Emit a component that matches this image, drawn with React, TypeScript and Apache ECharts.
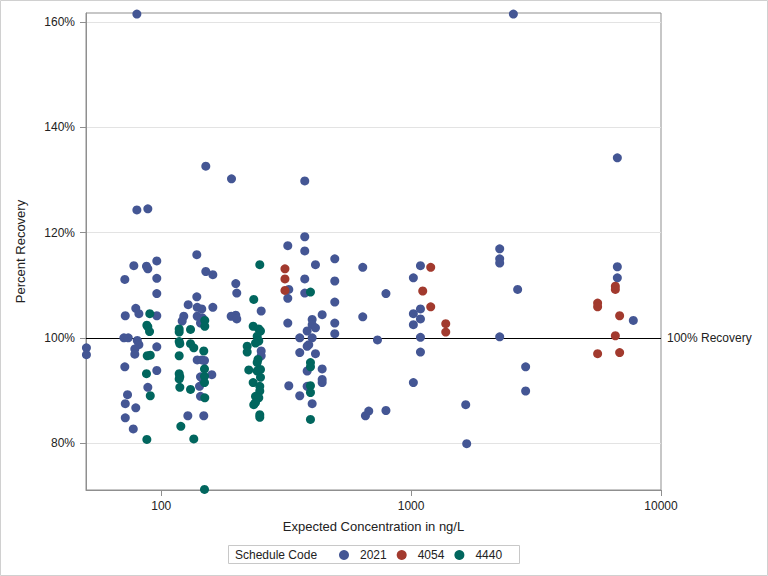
import React, { useEffect, useRef } from "react";
import * as echarts from "echarts";

const scheduleCodes = ["2021", "4054", "4440"];
const xTicks = [100, 1000, 10000];
const yTicks = [80, 100, 120, 140, 160];
const referenceValue = 100;

const series2021: [number, number][] = [
  [50.2, 98.1], [50.2, 96.8],
  [71.5, 111.1], [71.8, 104.2], [70.9, 100.0], [73.8, 100.0], [71.5, 94.5], [73.3, 89.2], [71.8, 87.5], [71.8, 84.8],
  [79.9, 161.5], [79.9, 124.3], [77.7, 113.7], [79.1, 105.6], [81.4, 104.6], [80.2, 99.5], [81.4, 98.7], [78.4, 97.9], [78.4, 96.9], [79.1, 86.7], [77.3, 82.7],
  [88.4, 124.5], [87.3, 113.6], [88.4, 113.1], [88.4, 90.6],
  [96.0, 114.6], [96.0, 111.3], [96.0, 108.4], [96.0, 104.2], [96.0, 98.3], [96.0, 93.8],
  [128.2, 106.3], [123.1, 104.1], [121.3, 103.2], [127.8, 85.2],
  [150.8, 132.6], [138.8, 115.8], [150.8, 112.6], [138.8, 107.8], [139.3, 105.8], [145.3, 105.5], [139.3, 104.1], [146.0, 103.8], [143.6, 102.8],
  [139.3, 95.8], [145.3, 95.8], [149.0, 95.7], [143.6, 92.6], [147.2, 92.1], [142.3, 90.8], [143.6, 88.9], [148.0, 85.2],
  [160.9, 112.0], [160.9, 105.8], [159.4, 93.0],
  [191.1, 130.2], [198.8, 110.3], [200.6, 108.5], [198.8, 104.3], [190.5, 104.1], [200.6, 103.6],
  [251.2, 105.1], [251.2, 97.5], [251.2, 96.6],
  [321.0, 117.5], [324.0, 109.2], [321.0, 107.5], [321.0, 102.8], [324.0, 90.9],
  [375.3, 129.8], [375.3, 119.2], [375.3, 116.5], [375.3, 111.2], [375.3, 108.5],
  [414.2, 113.9], [440.6, 104.4], [401.8, 103.5], [401.8, 102.5], [414.2, 101.9], [383.7, 101.3], [358.4, 100.0], [401.8, 100.0],
  [389.4, 98.7], [383.7, 98.4], [358.4, 97.2], [414.2, 97.0], [383.7, 93.7], [440.6, 94.1], [440.6, 92.1], [440.6, 91.5],
  [383.7, 90.8], [358.4, 89.0], [401.8, 87.5],
  [494.9, 115.0], [494.9, 110.8], [494.9, 106.8], [494.9, 102.8], [494.9, 100.8],
  [640.4, 113.4], [640.4, 104.0], [656.5, 85.2], [676.7, 86.1], [733.4, 99.6], [793.0, 108.4], [793.0, 86.2],
  [1021, 111.4], [1021, 104.6], [1021, 102.5], [1021, 91.5],
  [1090, 113.7], [1090, 105.5], [1090, 103.6], [1090, 100.1], [1090, 97.3],
  [1654, 87.3], [1669, 79.9],
  [2262, 116.9], [2262, 115.0], [2262, 114.2], [2262, 100.2],
  [2566, 161.5], [2669, 109.2], [2873, 94.5], [2873, 89.9],
  [6688, 134.2], [6688, 113.5], [6688, 111.4], [7748, 103.3],
];

const series4054: [number, number][] = [
  [312.7, 113.1], [312.7, 111.2], [312.7, 109.0],
  [1198, 113.4], [1113, 108.9], [1198, 105.9], [1376, 102.7], [1376, 101.1],
  [5577, 106.6], [5577, 105.9], [5577, 97.0],
  [6566, 109.8], [6566, 109.2], [6831, 104.2], [6566, 100.4], [6831, 97.2],
];

const series4440: [number, number][] = [
  [90.0, 104.6], [87.6, 102.4], [88.4, 102.1], [89.8, 101.2], [87.9, 96.6], [90.4, 96.7], [87.3, 93.2], [90.4, 89.0], [87.6, 80.7],
  [118.0, 101.7], [118.0, 101.1], [118.0, 99.3], [118.7, 98.9], [118.0, 96.6], [118.0, 93.2], [118.7, 92.6], [118.0, 92.2], [118.7, 90.6], [119.8, 83.2],
  [131.0, 101.6], [131.0, 98.9], [135.0, 98.1], [131.0, 90.2], [135.0, 80.8],
  [149.4, 103.3], [149.4, 102.2], [148.0, 97.5], [149.0, 94.1], [149.0, 92.7], [149.0, 91.5], [149.4, 88.6], [149.0, 71.2],
  [234.6, 107.3], [248.0, 113.9], [233.3, 102.2], [245.7, 101.7], [249.6, 101.3], [242.1, 100.3], [245.7, 99.4], [238.4, 99.0],
  [220.8, 98.4], [220.8, 97.3], [243.9, 95.9], [242.1, 95.3], [224.1, 93.9], [249.6, 94.0], [242.1, 93.7], [249.6, 92.5],
  [233.3, 91.5], [248.0, 90.8], [248.0, 89.9], [238.4, 88.9], [245.7, 88.6], [234.6, 87.3], [238.4, 87.7], [248.0, 85.4], [248.0, 84.9],
  [395.6, 108.7], [395.6, 95.3], [395.6, 94.5], [395.6, 90.9], [395.6, 89.6], [395.6, 84.5],
];

const colors = ["#445694", "#A23A2E", "#01665E"];
const FONT = "'Liberation Sans', Arial, Helvetica, sans-serif";

export default function App() {
  const ref = useRef<HTMLDivElement>(null);
  useEffect(() => {
    if (!ref.current) return;
    const chart = echarts.init(ref.current, null, { renderer: "svg" });
    const dataSets = [series2021, series4054, series4440];
    chart.setOption({
      animation: false,
      backgroundColor: "#ffffff",
      color: colors,
      textStyle: { fontFamily: FONT },
      grid: {
        left: 86,
        top: 13,
        width: 575,
        height: 477,
        show: true,
        borderColor: "#8f8f8f",
        borderWidth: 1,
        backgroundColor: "#ffffff",
      },
      xAxis: {
        type: "log",
        logBase: 10,
        min: 50,
        max: 10000,
        name: "Expected Concentration in ng/L",
        nameLocation: "middle",
        nameGap: 30,
        nameTextStyle: { fontSize: 13, color: "#222", fontFamily: FONT },
        axisLine: { show: true, lineStyle: { color: "#8f8f8f" } },
        axisTick: { show: true, length: 6, customValues: xTicks, lineStyle: { color: "#8f8f8f" } },
        axisLabel: {
          customValues: xTicks,
          margin: 10,
          fontSize: 12,
          color: "#222",
          fontFamily: FONT,
          formatter: (v: number) => String(Math.round(v)),
        },
        splitLine: { show: false },
        minorTick: { show: false },
      },
      yAxis: {
        type: "value",
        min: 71.1,
        max: 161.7,
        name: "Percent Recovery",
        nameLocation: "middle",
        nameGap: 59,
        nameTextStyle: { fontSize: 13, color: "#222", fontFamily: FONT },
        axisLine: { show: true, lineStyle: { color: "#8f8f8f" } },
        axisTick: { show: true, length: 6, customValues: yTicks, lineStyle: { color: "#8f8f8f" } },
        axisLabel: {
          customValues: yTicks,
          margin: 11,
          fontSize: 12,
          color: "#222",
          fontFamily: FONT,
          formatter: (v: number) => Math.round(v) + "%",
        },
        splitLine: { show: true, lineStyle: { color: "#e3e3e3", width: 1 } },
      },
      legend: {
        data: scheduleCodes,
        left: 339,
        top: 549,
        padding: 0,
        icon: "circle",
        itemWidth: 22,
        itemHeight: 10,
        itemGap: 10,
        textStyle: { fontSize: 12, color: "#222", fontFamily: FONT },
      },
      graphic: [
        {
          type: "rect",
          shape: { x: 0.5, y: 0.5, width: 767, height: 575 },
          style: { fill: "none", stroke: "#d0d0d0", lineWidth: 1 },
          silent: true,
        },
        {
          type: "rect",
          shape: { x: 228.5, y: 545.5, width: 291, height: 18 },
          style: { fill: "none", stroke: "#c8c8c8", lineWidth: 1 },
          silent: true,
        },
        {
          type: "text",
          x: 235,
          y: 554.5,
          style: {
            text: "Schedule Code",
            fontSize: 12,
            fill: "#222",
            fontFamily: FONT,
            verticalAlign: "middle",
            align: "left",
          },
          silent: true,
        },
      ],
      series: scheduleCodes.map((code, i) => ({
        name: code,
        type: "scatter",
        symbol: "circle",
        symbolSize: 9,
        data: dataSets[i],
        itemStyle: { color: colors[i], opacity: 1 },
        z: 3,
        ...(i === 0
          ? {
              markLine: {
                silent: true,
                symbol: ["none", "none"],
                lineStyle: { color: "#000000", width: 1, type: "solid" },
                label: {
                  show: true,
                  position: "end",
                  distance: 6,
                  formatter: "100% Recovery",
                  color: "#222",
                  fontSize: 12,
                  fontFamily: FONT,
                },
                data: [{ yAxis: referenceValue }],
                z: 2,
              },
            }
          : {}),
      })),
    });
    return () => chart.dispose();
  }, []);
  return (
    <div
      ref={ref}
      style={{ position: "absolute", left: 0, top: 0, width: 768, height: 576 }}
    />
  );
}
